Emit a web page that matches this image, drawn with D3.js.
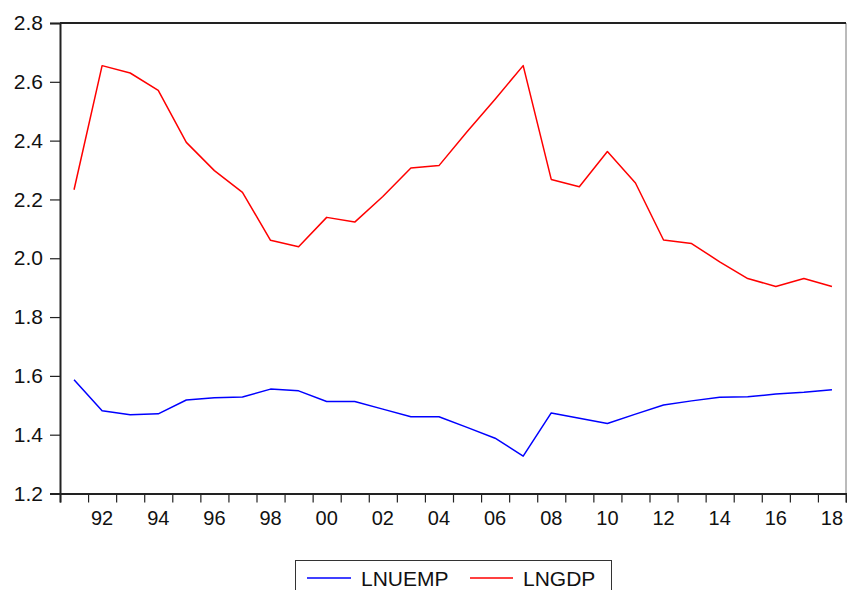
<!DOCTYPE html>
<html>
<head>
<meta charset="utf-8">
<script src="https://cdn.jsdelivr.net/npm/d3@7"></script>
<style>
    body { margin: 0; background: #fff; }
    text { font-family: "Liberation Sans", Arial, sans-serif; fill: #111; }
</style>
</head>
<body>
<div id="chart"></div>
<script>
'use strict';
var years = d3.range(1991, 2019);
var lnuemp = [1.587, 1.481, 1.468, 1.471, 1.518, 1.526, 1.528, 1.555, 1.549, 1.513,
    1.513, 1.487, 1.461, 1.461, 1.425, 1.388, 1.327, 1.474, 1.456, 1.438,
    1.470, 1.501, 1.515, 1.527, 1.529, 1.538, 1.544, 1.553];
var lngdp = [2.233, 2.655, 2.630, 2.571, 2.394, 2.298, 2.224, 2.061, 2.039, 2.139,
    2.123, 2.210, 2.307, 2.315, 2.430, 2.541, 2.655, 2.268, 2.243, 2.363,
    2.256, 2.062, 2.050, 1.988, 1.931, 1.904, 1.931, 1.904];
var yTicks = [1.2, 1.4, 1.6, 1.8, 2.0, 2.2, 2.4, 2.6, 2.8];
var seriesNames = ["LNUEMP", "LNGDP"];
var seriesColors = ["#0000ff", "#ff0000"];

(function () {
    var W = 847, H = 590;
    var pLeft = 60, pRight = 846, pTop = 23, pBottom = 493.5;

    var svg = d3.select("#chart").append("svg")
        .attr("width", W)
        .attr("height", H);

    var x = d3.scaleLinear().domain([1990.5, 2018.5]).range([pLeft, pRight]);
    var y = d3.scaleLinear().domain([1.2, 2.8]).range([pBottom, pTop]);

    // frame: right side lighter
    svg.append("line")
        .attr("x1", pRight).attr("x2", pRight)
        .attr("y1", pTop).attr("y2", pBottom)
        .attr("stroke", "#777").attr("stroke-width", 1);
    svg.append("line")
        .attr("x1", pLeft).attr("x2", pRight)
        .attr("y1", pTop).attr("y2", pTop)
        .attr("stroke", "#222").attr("stroke-width", 2);

    // y axis
    var yAxis = d3.axisLeft(y)
        .tickValues(yTicks)
        .tickSize(10)
        .tickPadding(7)
        .tickFormat(d3.format(".1f"));
    var gy = svg.append("g")
        .attr("transform", "translate(" + pLeft + ",0)")
        .call(yAxis);
    gy.select(".domain").attr("stroke", "#222").attr("stroke-width", 2);
    gy.selectAll(".tick line").attr("stroke", "#222").attr("stroke-width", 1.2);
    gy.selectAll("text").attr("font-size", 21).attr("fill", "#111");

    // x axis: ticks on year boundaries, labels on even years
    var boundaries = d3.range(1990.5, 2019, 1);
    var xAxis = d3.axisBottom(x)
        .tickValues(boundaries)
        .tickSize(9)
        .tickFormat("");
    var gx = svg.append("g")
        .attr("transform", "translate(0," + pBottom + ")")
        .call(xAxis);
    gx.select(".domain").attr("stroke", "#222").attr("stroke-width", 2);
    gx.selectAll(".tick line").attr("stroke", "#222").attr("stroke-width", 1.2);

    var labelYears = years.filter(function (d) { return d % 2 === 0; });
    svg.append("g").selectAll("text")
        .data(labelYears)
        .enter()
        .append("text")
        .attr("x", function (d) { return x(d); })
        .attr("y", 525)
        .attr("text-anchor", "middle")
        .attr("font-size", 20)
        .text(function (d) { return d3.format("02d")(d % 100); });

    // lines
    var line = d3.line()
        .x(function (d) { return x(d[0]); })
        .y(function (d) { return y(d[1]); });

    [lnuemp, lngdp].forEach(function (vals, i) {
        svg.append("path")
            .datum(years.map(function (yr, j) { return [yr, vals[j]]; }))
            .attr("d", line)
            .attr("fill", "none")
            .attr("stroke", seriesColors[i])
            .attr("stroke-width", 1.5)
            .attr("stroke-linejoin", "round");
    });

    // legend
    var lg = svg.append("g");
    lg.append("rect")
        .attr("x", 295.5).attr("y", 560.5)
        .attr("width", 316).attr("height", 40)
        .attr("fill", "#fff")
        .attr("stroke", "#333").attr("stroke-width", 1);
    var legendX = [[307, 351, 361], [470, 513, 523]];
    seriesNames.forEach(function (name, i) {
        lg.append("line")
            .attr("x1", legendX[i][0]).attr("x2", legendX[i][1])
            .attr("y1", 578).attr("y2", 578)
            .attr("stroke", seriesColors[i]).attr("stroke-width", 1.5);
        lg.append("text")
            .attr("x", legendX[i][2]).attr("y", 585.5)
            .attr("font-size", 21)
            .text(name);
    });
})();
</script>
</body>
</html>
